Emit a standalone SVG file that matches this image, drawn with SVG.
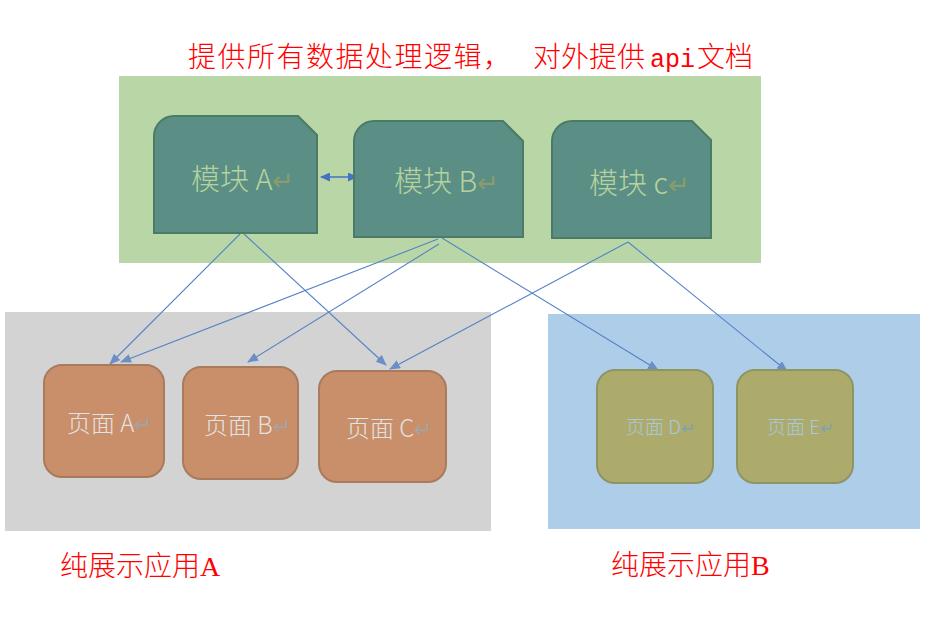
<svg xmlns="http://www.w3.org/2000/svg" width="927" height="628" viewBox="0 0 927 628">
<style>
.title{font-family:"Noto Sans CJK SC","Liberation Serif",serif;font-size:28px;fill:#ff0000;font-weight:300}
.mod{fill:#5b8f85;stroke:#4b7b67;stroke-width:2}
.modt{font-family:"Noto Sans CJK SC","Liberation Sans",sans-serif;font-size:29px;fill:#b6d39e;font-weight:300}
.ret1{fill:#8a9c6c}
.pg{fill:#c98f6a;stroke:#a97b5c;stroke-width:2}
.pgt{font-family:"Noto Sans CJK SC","Liberation Sans",sans-serif;font-size:24px;fill:#e2e2e2;font-weight:300}
.ret2{fill:#a3a3a3}
.pg2{fill:#adab6c;stroke:#8f9463;stroke-width:2}
.pgt2{font-family:"Noto Sans CJK SC","Liberation Sans",sans-serif;font-size:19px;fill:#a9c8dc;font-weight:300}
.ret3{fill:#7f9fb5}
.conn{stroke:#5582c6;stroke-width:1.1;fill:none;marker-end:url(#ah)}
</style>
<defs>
<marker id="ah" markerUnits="userSpaceOnUse" markerWidth="11" markerHeight="9" refX="10" refY="4.5" orient="auto">
<path d="M0,0 L11,4.5 L0,9 Z" fill="#6c8ec6"/>
</marker>
<marker id="ah2" markerUnits="userSpaceOnUse" markerWidth="10" markerHeight="9" refX="9" refY="4.5" orient="auto-start-reverse">
<path d="M0,0 L10,4.5 L0,9 Z" fill="#4472c4"/>
</marker>
</defs>
<rect width="927" height="628" fill="#ffffff"/>
<g id="backgrounds">
<rect x="119" y="76" width="642" height="187" fill="#b9d7a6"/>
<rect x="5" y="312" width="486" height="219" fill="#d3d3d3"/>
<rect x="548" y="314" width="372" height="215" fill="#aecde9"/>
</g>
<g id="labels">
<text class="title" y="67"><tspan x="188" textLength="323" lengthAdjust="spacing">提供所有数据处理逻辑，</tspan><tspan x="533">对外提供</tspan><tspan x="650" font-family="Liberation Mono, monospace" font-size="25">api</tspan><tspan x="697">文档</tspan></text>
<text class="title" x="60" y="576">纯展示应用<tspan font-family="Liberation Serif, serif">A</tspan></text>
<text class="title" x="611" y="575">纯展示应用<tspan font-family="Liberation Serif, serif">B</tspan></text>
</g>
<g id="connectors">
<line class="conn" x1="240" y1="234" x2="110" y2="364"/>
<line class="conn" x1="244" y1="234" x2="386" y2="365"/>
<line class="conn" x1="438" y1="239" x2="121" y2="362"/>
<line class="conn" x1="439" y1="244" x2="248" y2="362"/>
<line class="conn" x1="442" y1="238" x2="658" y2="370"/>
<line class="conn" x1="628" y1="242" x2="390" y2="369"/>
<line class="conn" x1="628" y1="242" x2="787" y2="371"/>
<line x1="321" y1="177" x2="357" y2="177" stroke="#4472c4" stroke-width="1.5" marker-start="url(#ah2)" marker-end="url(#ah2)"/>
</g>
<g id="moduleA">
<path class="mod" d="M154,136 A20,20 0 0 1 174,116 L298,116 L317,135 L317,233 L154,233 Z"/>
<text class="modt" x="191" y="190">模块 A<tspan class="ret1" font-size="26">↵</tspan></text>
</g>
<g id="moduleB">
<path class="mod" d="M354,141 A20,20 0 0 1 374,121 L503,121 L523,141 L523,237 L354,237 Z"/>
<text class="modt" x="394" y="192">模块 B<tspan class="ret1" font-size="26">↵</tspan></text>
</g>
<g id="moduleC">
<path class="mod" d="M552,141 A20,20 0 0 1 572,121 L692,121 L711,140 L711,238 L552,238 Z"/>
<text class="modt" x="589" y="194">模块 c<tspan class="ret1" font-size="26">↵</tspan></text>
</g>
<g id="pageA">
<rect class="pg" x="44" y="365" width="120" height="112" rx="18"/>
<text class="pgt" x="67" y="432">页面 A<tspan class="ret2" font-size="22">↵</tspan></text>
</g>
<g id="pageB">
<rect class="pg" x="183" y="367" width="115" height="112" rx="18"/>
<text class="pgt" x="204" y="434">页面 B<tspan class="ret2" font-size="22">↵</tspan></text>
</g>
<g id="pageC">
<rect class="pg" x="319" y="371" width="127" height="111" rx="18"/>
<text class="pgt" x="346" y="437">页面 C<tspan class="ret2" font-size="22">↵</tspan></text>
</g>
<g id="pageD">
<rect class="pg2" x="597" y="370" width="116" height="113" rx="18"/>
<text class="pgt2" x="626" y="434">页面 D<tspan class="ret3" font-size="17">↵</tspan></text>
</g>
<g id="pageE">
<rect class="pg2" x="737" y="370" width="116" height="113" rx="18"/>
<text class="pgt2" x="767" y="434">页面 E<tspan class="ret3" font-size="17">↵</tspan></text>
</g>
</svg>
